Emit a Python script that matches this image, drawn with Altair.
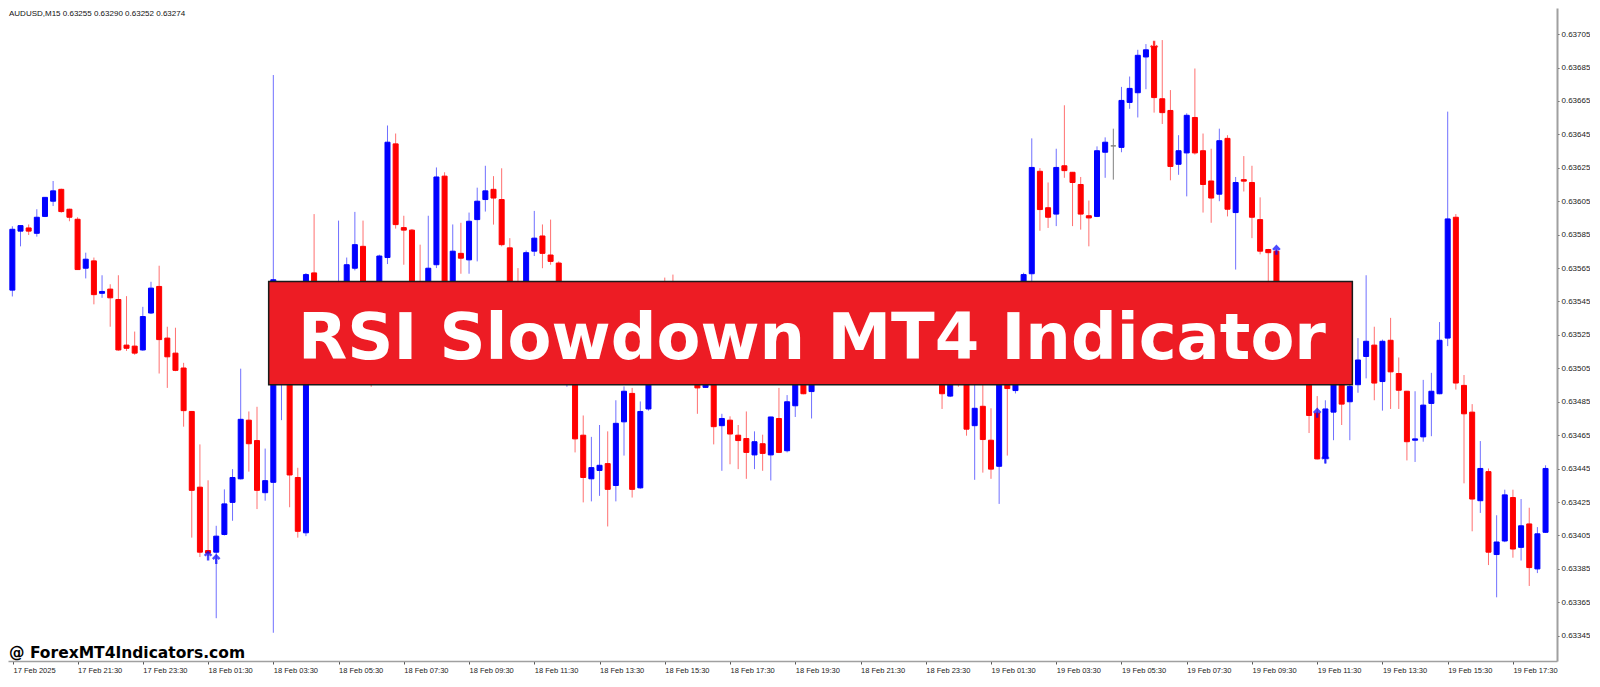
import json
import altair as alt
import pandas as pd

# ---------------- data ----------------
bar_index = list(range(-8, 181))  # M15 bar positions; bar 0 = 17 Feb 21:30

opens = [
    0.635518, 0.635871, 0.635890, 0.635858, 0.635959, 0.636050, 0.636121, 0.636002, 0.635942, 0.635649,
    0.635693, 0.635499, 0.635524, 0.635462, 0.635189, 0.635183, 0.635160, 0.635381, 0.635540, 0.635231,
    0.635141, 0.635052, 0.634792, 0.634339, 0.633960, 0.633950, 0.634056, 0.634248, 0.634389, 0.634740,
    0.634618, 0.634306, 0.634368, 0.635000, 0.635500, 0.634397, 0.634066, 0.635621, 0.635240, 0.635350,
    0.635300, 0.635480, 0.635649, 0.635780, 0.635450, 0.635200, 0.635713, 0.636393, 0.635892, 0.635877,
    0.635500, 0.635400, 0.635670, 0.636200, 0.635450, 0.635738, 0.635699, 0.635940, 0.636060, 0.636121,
    0.636060, 0.635771, 0.635500, 0.635420, 0.635751, 0.635842, 0.635728, 0.635680, 0.635100, 0.635300,
    0.634650, 0.634389, 0.634439, 0.634480, 0.634349, 0.634730, 0.634900, 0.634335, 0.634807, 0.635120,
    0.635300, 0.635200, 0.635120, 0.635200, 0.635100, 0.634936, 0.635000, 0.634707, 0.634740, 0.634650,
    0.634630, 0.634532, 0.634599, 0.634532, 0.634750, 0.634557, 0.634826, 0.635050, 0.634911, 0.635000,
    0.635080, 0.635150, 0.635100, 0.635220, 0.635180, 0.635260, 0.635200, 0.635240, 0.635170, 0.635210,
    0.635140, 0.635180, 0.635110, 0.635070, 0.635030, 0.634884, 0.634970, 0.634960, 0.634707, 0.634823,
    0.634620, 0.634464, 0.635150, 0.634917, 0.635300, 0.635616, 0.636229, 0.636011, 0.635973, 0.636262,
    0.636223, 0.636150, 0.635963, 0.635959, 0.636343, 0.636381, 0.636372, 0.636641, 0.636699, 0.636913,
    0.636975, 0.636663, 0.636593, 0.636271, 0.636339, 0.636551, 0.636352, 0.636171, 0.636092, 0.636426,
    0.635982, 0.636179, 0.636162, 0.635940, 0.635761, 0.635751, 0.635450, 0.635300, 0.635150, 0.635250,
    0.634782, 0.634512, 0.634788, 0.635000, 0.634850, 0.634952, 0.635121, 0.635189, 0.634971, 0.635218,
    0.635019, 0.634913, 0.634620, 0.634640, 0.634840, 0.634898, 0.635231, 0.635954, 0.634948, 0.634788,
    0.634258, 0.634432, 0.633936, 0.634017, 0.634277, 0.633979, 0.634119, 0.633850, 0.634069,
]

highs = [
    0.635900, 0.635905, 0.635911, 0.636002, 0.636075, 0.636171, 0.636125, 0.636005, 0.635954, 0.635742,
    0.635713, 0.635607, 0.635553, 0.635607, 0.635482, 0.635270, 0.635418, 0.635568, 0.635664, 0.635299,
    0.635293, 0.635083, 0.634795, 0.634595, 0.634380, 0.634108, 0.634326, 0.634447, 0.635048, 0.634792,
    0.634820, 0.634570, 0.636805, 0.635400, 0.635530, 0.634455, 0.635620, 0.635973, 0.635400, 0.635450,
    0.635934, 0.635713, 0.635986, 0.635934, 0.635500, 0.635730, 0.636503, 0.636455, 0.635963, 0.635884,
    0.635790, 0.635963, 0.636252, 0.636223, 0.635911, 0.635921, 0.635982, 0.636131, 0.636262, 0.636200,
    0.636247, 0.635829, 0.635650, 0.635755, 0.635992, 0.635911, 0.635940, 0.635690, 0.635400, 0.635350,
    0.634768, 0.634640, 0.634711, 0.634673, 0.634859, 0.634942, 0.634933, 0.634852, 0.635150, 0.635350,
    0.635593, 0.635611, 0.635250, 0.635240, 0.635130, 0.635050, 0.635030, 0.634778, 0.634763, 0.634711,
    0.634792, 0.634673, 0.634653, 0.634760, 0.634933, 0.634890, 0.635100, 0.635080, 0.635050, 0.635120,
    0.635200, 0.635190, 0.635260, 0.635280, 0.635310, 0.635300, 0.635270, 0.635280, 0.635250, 0.635240,
    0.635220, 0.635210, 0.635150, 0.635100, 0.635060, 0.635000, 0.635000, 0.634990, 0.634960, 0.634960,
    0.634811, 0.635200, 0.635220, 0.635330, 0.635622, 0.636426, 0.636248, 0.636162, 0.636364, 0.636624,
    0.636225, 0.636195, 0.636054, 0.636378, 0.636432, 0.636484, 0.636734, 0.636796, 0.636956, 0.636990,
    0.637004, 0.637014, 0.636715, 0.636445, 0.636576, 0.636844, 0.636455, 0.636364, 0.636484, 0.636445,
    0.636195, 0.636320, 0.636262, 0.636073, 0.635765, 0.635760, 0.635500, 0.635350, 0.635300, 0.635280,
    0.634884, 0.634859, 0.635050, 0.635050, 0.635231, 0.635231, 0.635607, 0.635299, 0.635222, 0.635352,
    0.635115, 0.634915, 0.634913, 0.634981, 0.635023, 0.635327, 0.636586, 0.635973, 0.635010, 0.634836,
    0.634615, 0.634451, 0.634171, 0.634324, 0.634324, 0.634268, 0.634216, 0.634100, 0.634470,
]

lows = [
    0.635480, 0.635780, 0.635848, 0.635838, 0.635955, 0.636021, 0.635981, 0.635930, 0.635640, 0.635588,
    0.635433, 0.635472, 0.635299, 0.635155, 0.635154, 0.635131, 0.635155, 0.635375, 0.635019, 0.634933,
    0.635033, 0.634701, 0.634037, 0.633921, 0.633927, 0.633555, 0.634050, 0.634138, 0.634385, 0.634432,
    0.634208, 0.634258, 0.633468, 0.634740, 0.634219, 0.634037, 0.634046, 0.635200, 0.635200, 0.635250,
    0.635260, 0.635440, 0.635636, 0.635400, 0.634940, 0.635150, 0.635674, 0.635886, 0.635670, 0.635450,
    0.635350, 0.635350, 0.635650, 0.635400, 0.635400, 0.635616, 0.635616, 0.635690, 0.635988, 0.635910,
    0.635780, 0.635400, 0.635360, 0.635380, 0.635722, 0.635649, 0.635670, 0.635050, 0.634940, 0.634547,
    0.634248, 0.634254, 0.634287, 0.634104, 0.634254, 0.634528, 0.634277, 0.634330, 0.634797, 0.635080,
    0.635150, 0.635080, 0.635060, 0.635050, 0.634778, 0.634933, 0.634595, 0.634437, 0.634476, 0.634447,
    0.634389, 0.634447, 0.634437, 0.634379, 0.634543, 0.634547, 0.634759, 0.634895, 0.634750, 0.634970,
    0.635030, 0.635050, 0.635070, 0.635120, 0.635150, 0.635160, 0.635150, 0.635130, 0.635120, 0.635100,
    0.635090, 0.635060, 0.635020, 0.634990, 0.634807, 0.634878, 0.634940, 0.634647, 0.634383, 0.634426,
    0.634389, 0.634239, 0.634528, 0.634900, 0.635250, 0.635570, 0.635873, 0.635890, 0.635901, 0.636190,
    0.635901, 0.635880, 0.635780, 0.635955, 0.636190, 0.636179, 0.636343, 0.636603, 0.636551, 0.636720,
    0.636580, 0.636512, 0.636175, 0.636208, 0.636079, 0.636329, 0.635982, 0.635921, 0.636050, 0.635959,
    0.635641, 0.636108, 0.635829, 0.635732, 0.635450, 0.635400, 0.635250, 0.635050, 0.635080, 0.634663,
    0.634505, 0.634480, 0.634620, 0.634711, 0.634620, 0.634904, 0.634990, 0.634859, 0.634797, 0.634807,
    0.634807, 0.634499, 0.634490, 0.634611, 0.634644, 0.634895, 0.635183, 0.634923, 0.634362, 0.634075,
    0.634185, 0.633873, 0.633680, 0.634010, 0.633917, 0.633900, 0.633748, 0.633825, 0.634065,
]

closes = [
    0.635882, 0.635904, 0.635871, 0.635954, 0.636073, 0.636112, 0.635988, 0.635954, 0.635641, 0.635703,
    0.635491, 0.635510, 0.635472, 0.635160, 0.635170, 0.635141, 0.635360, 0.635530, 0.635222, 0.635119,
    0.635038, 0.634797, 0.634320, 0.633950, 0.633945, 0.634046, 0.634239, 0.634397, 0.634745, 0.634599,
    0.634320, 0.634378, 0.635580, 0.635300, 0.634412, 0.634075, 0.635611, 0.635240, 0.635350, 0.635300,
    0.635480, 0.635670, 0.635790, 0.635450, 0.635200, 0.635722, 0.636403, 0.635910, 0.635877, 0.635500,
    0.635400, 0.635649, 0.636195, 0.635450, 0.635751, 0.635709, 0.635930, 0.636050, 0.636112, 0.636069,
    0.635790, 0.635450, 0.635420, 0.635742, 0.635829, 0.635738, 0.635690, 0.635100, 0.635300, 0.634628,
    0.634397, 0.634456, 0.634470, 0.634326, 0.634721, 0.634913, 0.634326, 0.634792, 0.635120, 0.635300,
    0.635200, 0.635120, 0.635200, 0.635100, 0.634933, 0.634962, 0.634701, 0.634750, 0.634657, 0.634618,
    0.634547, 0.634611, 0.634541, 0.634759, 0.634547, 0.634850, 0.635050, 0.634898, 0.635000, 0.635080,
    0.635150, 0.635100, 0.635220, 0.635180, 0.635260, 0.635200, 0.635240, 0.635170, 0.635210, 0.635140,
    0.635180, 0.635110, 0.635070, 0.635030, 0.634898, 0.634970, 0.634955, 0.634686, 0.634811, 0.634624,
    0.634447, 0.635150, 0.634929, 0.635300, 0.635611, 0.636252, 0.636000, 0.635954, 0.636252, 0.636233,
    0.636162, 0.635973, 0.635950, 0.636352, 0.636403, 0.636381, 0.636653, 0.636725, 0.636923, 0.636956,
    0.636670, 0.636580, 0.636258, 0.636352, 0.636564, 0.636339, 0.636150, 0.636069, 0.636412, 0.636002,
    0.636162, 0.636170, 0.635954, 0.635751, 0.635742, 0.635450, 0.635300, 0.635150, 0.635250, 0.634768,
    0.634508, 0.634807, 0.635000, 0.634836, 0.634942, 0.635100, 0.635212, 0.634962, 0.635212, 0.635029,
    0.634919, 0.634611, 0.634628, 0.634830, 0.634913, 0.635218, 0.635944, 0.634962, 0.634778, 0.634268,
    0.634451, 0.633950, 0.634011, 0.634293, 0.633969, 0.634108, 0.633858, 0.634060, 0.634451,
]

# signal arrows of the indicator
arrow_bars = [16, 17, 132, 147, 152, 153]
arrow_prices = [0.633925, 0.633905, 0.636985, 0.635755, 0.634780, 0.634505]
arrow_dirs = ["up", "up", "down", "up", "up", "up"]

# axes
x_tick_positions = [-7.92, 0, 8, 16, 24, 32, 40, 48, 56, 64, 72, 80, 88, 96,
                    104, 112, 120, 128, 136, 144, 152, 160, 168, 176]
x_tick_labels = ["17 Feb 2025", "17 Feb 21:30", "17 Feb 23:30", "18 Feb 01:30", "18 Feb 03:30",
                 "18 Feb 05:30", "18 Feb 07:30", "18 Feb 09:30", "18 Feb 11:30", "18 Feb 13:30",
                 "18 Feb 15:30", "18 Feb 17:30", "18 Feb 19:30", "18 Feb 21:30", "18 Feb 23:30",
                 "19 Feb 01:30", "19 Feb 03:30", "19 Feb 05:30", "19 Feb 07:30", "19 Feb 09:30",
                 "19 Feb 11:30", "19 Feb 13:30", "19 Feb 15:30", "19 Feb 17:30"]
y_tick_values = [0.63345, 0.63365, 0.63385, 0.63405, 0.63425, 0.63445, 0.63465, 0.63485,
                 0.63505, 0.63525, 0.63545, 0.63565, 0.63585, 0.63605, 0.63625, 0.63645,
                 0.63665, 0.63685, 0.63705]

header_text = "AUDUSD,M15  0.63255 0.63290 0.63252 0.63274"
banner_text = "RSI Slowdown MT4 Indicator"
watermark_text = "@ ForexMT4Indicators.com"
banner_bars = [23.43, 156.31]
banner_prices = [0.634952, 0.635570]
banner_text_bar = [90.05]
banner_text_price = [0.635106]

X_DOMAIN = [-7.92, 180.79]
Y_DOMAIN = [0.633299, 0.637206]

# ---------------- tables ----------------
df = pd.DataFrame({"bar": bar_index, "open": opens, "high": highs, "low": lows, "close": closes})
df["dir"] = ["up" if c > o else ("down" if c < o else "flat") for o, c in zip(df["open"], df["close"])]

arrows = pd.DataFrame({"bar": arrow_bars, "price": arrow_prices, "dir": arrow_dirs})
banner = pd.DataFrame({"x1": [banner_bars[0]], "x2": [banner_bars[1]],
                       "y1": [banner_prices[0]], "y2": [banner_prices[1]]})
banner_lbl = pd.DataFrame({"bx": banner_text_bar, "by": banner_text_price, "t": [banner_text]})

# ---------------- scales / axes ----------------
xs = alt.Scale(domain=X_DOMAIN, nice=False, zero=False)
ys = alt.Scale(domain=Y_DOMAIN, nice=False, zero=False)

label_expr = f"{json.dumps(x_tick_labels)}[indexof({json.dumps(x_tick_positions)}, datum.value)]"
x_axis = alt.Axis(values=x_tick_positions, labelExpr=label_expr, title=None, grid=False,
                  labelAlign="left", labelBaseline="top", labelPadding=2, labelFlush=False,
                  labelOverlap=False, labelFont="Liberation Sans", labelFontSize=7.5,
                  labelColor="#222222", tickSize=3, tickColor="#555555",
                  domainColor="#a0a0a0", domainWidth=1.5)
y_axis = alt.Axis(orient="right", values=y_tick_values, format=".5f", title=None, grid=False,
                  labelPadding=2, labelFlush=False, labelOverlap=False,
                  labelFont="Liberation Sans", labelFontSize=8, labelColor="#222222",
                  tickSize=2, tickColor="#555555", domainColor="#a0a0a0", domainWidth=2)

DIRS = ["up", "down", "flat"]
wick_scale = alt.Scale(domain=DIRS, range=["#7070ff", "#ff7070", "#808080"])
body_scale = alt.Scale(domain=DIRS, range=["#0000ff", "#ff0000", "#808080"])

UP_PATH = "M0,1L0,-1M-0.8,-0.15L0,-1L0.8,-0.15"
DOWN_PATH = "M0,-1L0,1M-0.8,0.15L0,1L0.8,0.15"

X = lambda f: alt.X(f, scale=xs, axis=x_axis)
Y = lambda f: alt.Y(f, scale=ys, axis=y_axis)

wicks = alt.Chart(df).mark_rule(strokeWidth=1, clip=True).encode(
    x=X("bar:Q"), y=Y("low:Q"), y2="high:Q",
    color=alt.Color("dir:N", scale=wick_scale, legend=None),
)
bodies = alt.Chart(df).mark_bar(size=5, strokeWidth=1, clip=True).encode(
    x=X("bar:Q"), y=Y("open:Q"), y2="close:Q",
    fill=alt.Fill("dir:N", scale=body_scale, legend=None),
    stroke=alt.Stroke("dir:N", scale=body_scale, legend=None),
)
signals = alt.Chart(arrows).mark_point(filled=False, size=70, strokeWidth=2.4, clip=True).encode(
    x=X("bar:Q"), y=Y("price:Q"),
    shape=alt.Shape("dir:N", scale=alt.Scale(domain=["up", "down"], range=[UP_PATH, DOWN_PATH]), legend=None),
    stroke=alt.Stroke("dir:N", scale=body_scale, legend=None),
)
banner_rect = alt.Chart(banner).mark_rect(fill="#ED1C24", stroke="#1a1a1a", strokeWidth=1.5).encode(
    x=X("x1:Q"), x2="x2:Q", y=Y("y1:Q"), y2="y2:Q",
)
banner_txt = alt.Chart(banner_lbl).mark_text(
    font="DejaVu Sans", fontWeight="bold", fontSize=64, color="white",
    align="center", baseline="alphabetic",
).encode(x=X("bx:Q"), y=Y("by:Q"), text="t:N")

header = alt.Chart(pd.DataFrame({"t": [header_text]})).mark_text(
    font="Liberation Sans", fontSize=8, color="#111111", align="left", baseline="alphabetic",
).encode(x=alt.value(1), y=alt.value(8), text="t:N")

watermark = alt.Chart(pd.DataFrame({"t": [watermark_text]})).mark_text(
    font="DejaVu Sans", fontWeight="bold", fontSize=15.5, color="#000000", align="left",
    baseline="alphabetic",
).encode(x=alt.value(1), y=alt.value(650), text="t:N")

chart = alt.layer(wicks, bodies, signals, banner_rect, banner_txt, header, watermark).properties(
    width=1549, height=653, padding=0, background="white",
).configure_view(stroke=None)

chart.save("out.html", embed_options={"renderer": "svg", "actions": False})
